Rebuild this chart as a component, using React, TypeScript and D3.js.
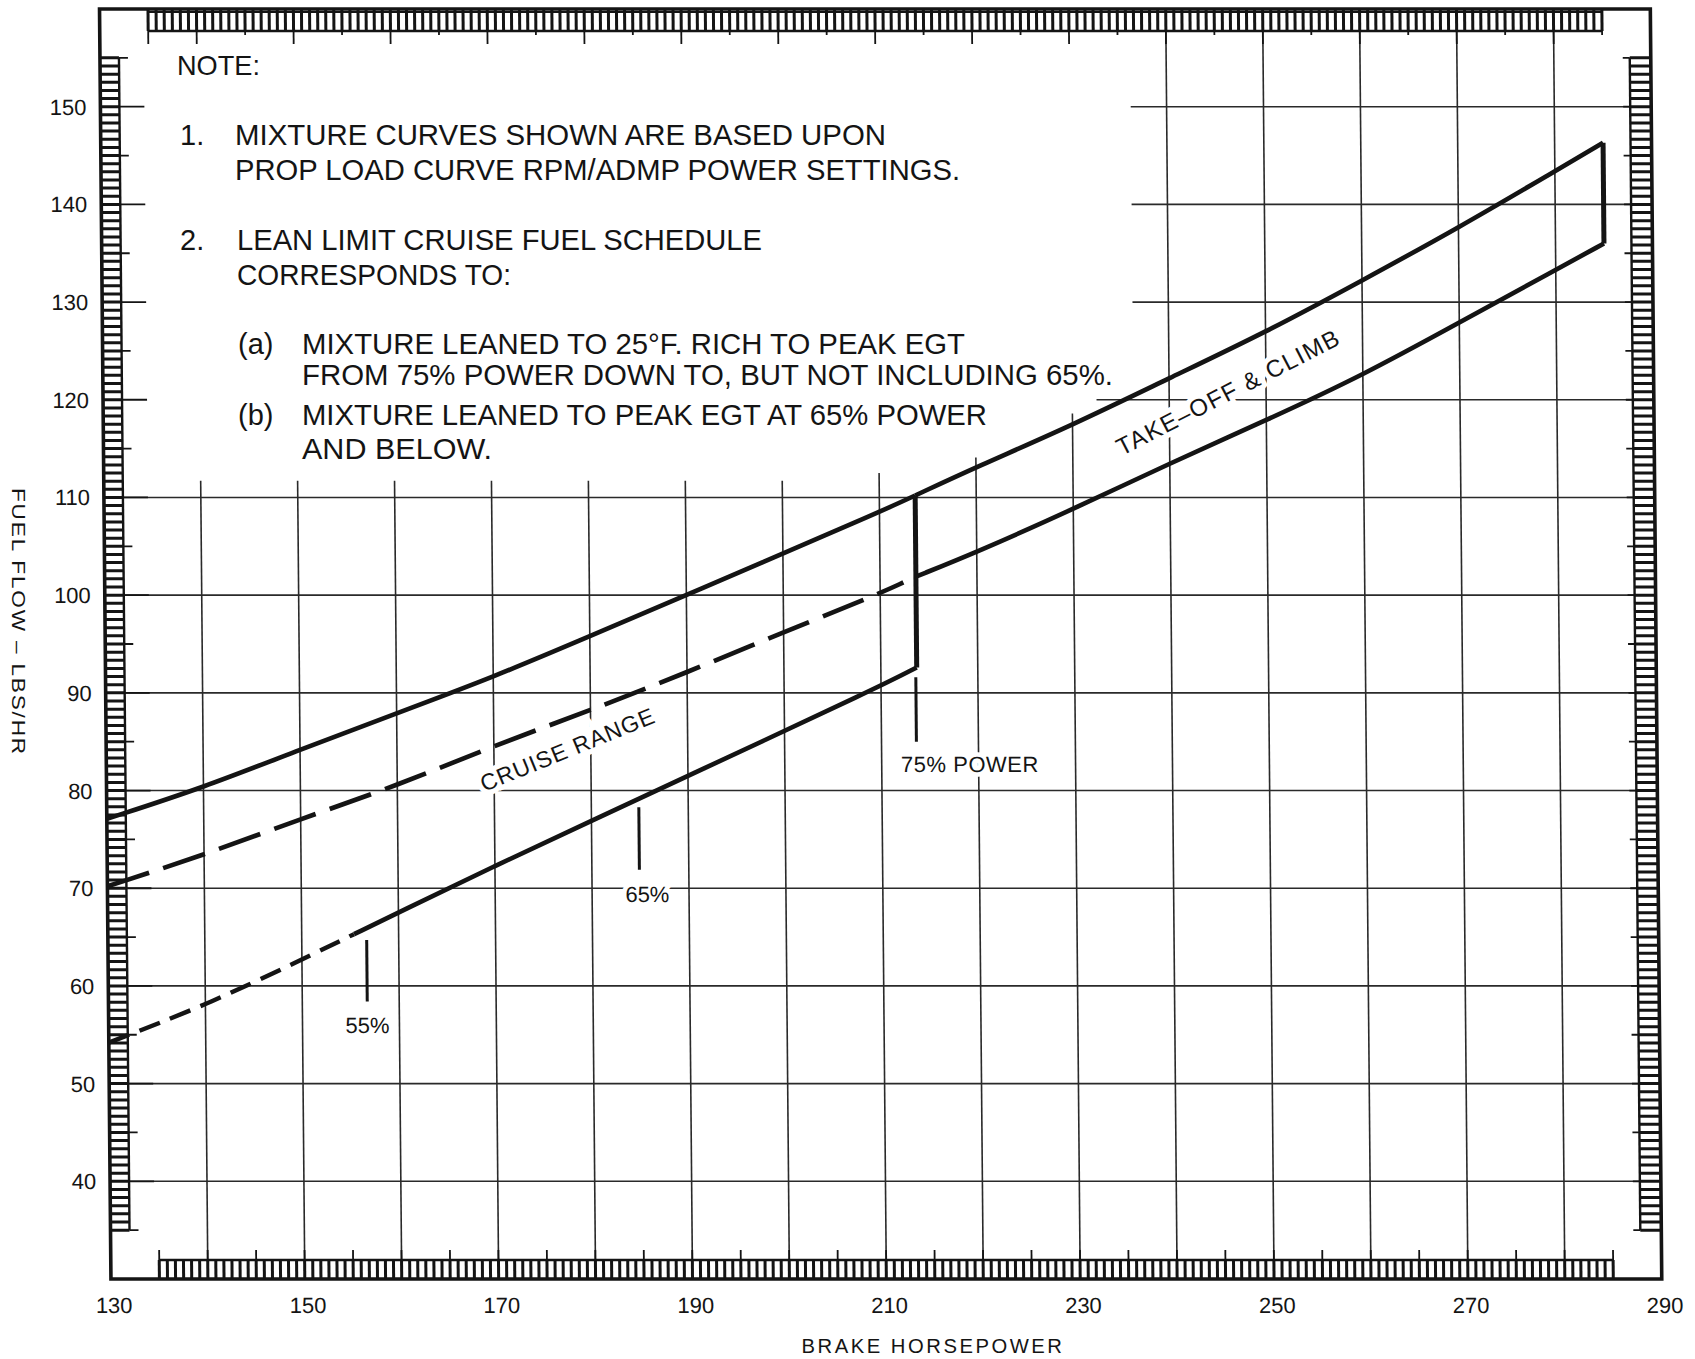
import React from "react";
import * as d3 from "d3";

const WIDTH = 1695;
const HEIGHT = 1359;

// ---- axes ----
const xTickValues = [130, 150, 170, 190, 210, 230, 250, 270, 290];
const yTickValues = [40, 50, 60, 70, 80, 90, 100, 110, 120, 130, 140, 150];
const xGridValues = [140, 150, 160, 170, 180, 190, 200, 210, 220, 230, 240, 250, 260, 270, 280];
const yGridValues = [40, 50, 60, 70, 80, 90, 100, 110, 120, 130, 140, 150];

// ---- series (brake horsepower -> fuel flow lbs/hr) ----
const richHp = [130, 140, 150, 160, 170, 180, 190, 210, 213.7];
const richFlow = [77.1, 80.3, 84.2, 87.9, 91.6, 95.8, 100.0, 108.5, 110.2];

const takeoffUpperHp = [213.7, 220, 230, 240, 250, 260, 270, 280, 285];
const takeoffUpperFlow = [110.2, 113.1, 117.4, 122.2, 126.9, 132.2, 137.6, 143.4, 146.3];

const takeoffLowerHp = [213.7, 220, 230, 240, 250, 260, 270, 280, 285];
const takeoffLowerFlow = [101.9, 104.4, 108.8, 113.5, 117.9, 122.5, 127.9, 133.3, 136.0];

const lean25Hp = [130, 140, 150, 160, 170, 180, 190, 200, 210, 212.4];
const lean25Flow = [70.2, 73.4, 77.1, 80.5, 84.6, 88.2, 92.1, 96.2, 100.2, 101.3];

const peakEgtHp = [130, 140, 150, 155.4, 160, 170, 180, 190, 210, 213.7];
const peakEgtFlow = [54.2, 58.0, 62.7, 65.3, 67.5, 72.3, 76.9, 81.5, 90.7, 92.6];
const peakEgtDashedUntil = 155.4;

// ---- power markers ----
const markLabels = ["55%", "65%", "75% POWER"];
const markHp = [156.7, 184.9, 213.6];
const markTopFlow = [64.7, 78.3, 91.6];
const markBottomFlow = [58.4, 71.9, 85.0];
const markLabelHp = [156.7, 185.7, 219.1];
const markLabelFlow = [55.2, 68.6, 81.9];

// ---- band labels ----
const bandLabels = ["CRUISE RANGE", "TAKE\u2013OFF & CLIMB"];
const bandHp = [177.6, 246.1];
const bandFlow = [84.2, 120.8];
const bandAngle = [-22, -27];

// ---- area behind the note (grid blanked) ----
const noteMaskHp = [130, 236.3, 236.3, 232.5, 232.5, 225, 225, 215, 215, 205, 205, 130];
const noteMaskFlow = [160, 160, 121.5, 121.5, 118.6, 118.6, 114.1, 114.1, 112.5, 112.5, 111.7, 111.7];

// ---- note text ----
const noteTexts = [
  "NOTE:",
  "1.",
  "MIXTURE CURVES SHOWN ARE BASED UPON",
  "PROP LOAD CURVE RPM/ADMP POWER SETTINGS.",
  "2.",
  "LEAN LIMIT CRUISE FUEL SCHEDULE",
  "CORRESPONDS TO:",
  "(a)",
  "MIXTURE LEANED TO 25\u00B0F. RICH TO PEAK EGT",
  "FROM 75% POWER DOWN TO, BUT NOT INCLUDING 65%.",
  "(b)",
  "MIXTURE LEANED TO PEAK EGT AT 65% POWER",
  "AND BELOW.",
];
const noteX = [177, 180, 235, 235, 180, 237, 237, 238, 302, 302, 238, 302, 302];
const noteY = [75, 145, 145, 180, 250, 250, 285, 354, 354, 385, 425, 425, 459];
const noteEnd = [260, 0, 886, 960, 0, 762, 511, 0, 965, 1113, 0, 987, 492];

const FONT = "'Liberation Sans', Arial, Helvetica, sans-serif";
const INK = "#141414";
const SKEW = 0.009;

export default function App() {
  const x = d3.scaleLinear().domain([130, 290]).range([105.2, 1656]);
  const y = d3.scaleLinear().domain([30, 160]).range([1279, 9]);

  const line = d3
    .line<[number, number]>()
    .x((d) => x(d[0]))
    .y((d) => y(d[1]))
    .curve(d3.curveBasis);

  const zip = (a: number[], b: number[]) => a.map((v, i) => [v, b[i]] as [number, number]);

  const rich = zip(richHp, richFlow);
  const tUp = zip(takeoffUpperHp, takeoffUpperFlow);
  const tLo = zip(takeoffLowerHp, takeoffLowerFlow);
  const lean = zip(lean25Hp, lean25Flow);
  const peak = zip(peakEgtHp, peakEgtFlow);
  const peakDashed = peak.filter((d) => d[0] <= peakEgtDashedUntil);
  const peakSolid = peak.filter((d) => d[0] >= peakEgtDashedUntil);

  const x0 = x(130), x1 = x(290), yTop = y(160), yBot = y(30);

  // rulers
  const PITCH = 5 / 6;
  const rungs = (a: number, b: number) => {
    const n = Math.round((b - a) / PITCH);
    return d3.range(n + 1).map((i) => a + (i * (b - a)) / n);
  };
  const hRung = rungs(135, 285);
  const vRung = rungs(35, 155);
  const hTicks = d3.range(135, 286, 5);
  const vTicks = d3.range(35, 156, 5);
  const TOPW = 22, BOTW = 19, LEFTW = 19, RIGHTW = 21;

  const maskPts = noteMaskHp.map((h, i) => `${x(h)},${y(noteMaskFlow[i])}`).join(" ");

  const skewDeg = (Math.atan(SKEW) * 180) / Math.PI;

  const bandText = (halo: boolean) =>
    bandLabels.map((t, i) => (
      <text
        key={"b" + i + halo}
        x={x(bandHp[i])}
        y={y(bandFlow[i])}
        transform={`rotate(${bandAngle[i]},${x(bandHp[i])},${y(bandFlow[i])})`}
        textAnchor="middle"
        dominantBaseline="central"
        fontFamily={FONT}
        fontSize={i === 0 ? 23 : 24}
        letterSpacing={i === 0 ? 1 : 1.5}
        fill={halo ? "white" : INK}
        stroke={halo ? "white" : "none"}
        strokeWidth={halo ? 10 : 0}
      >
        {t}
      </text>
    ));

  const markText = (halo: boolean) =>
    markLabels.map((t, i) => (
      <text
        key={"m" + i + halo}
        x={x(markLabelHp[i])}
        y={y(markLabelFlow[i])}
        textAnchor="middle"
        fontFamily={FONT}
        fontSize={22}
        letterSpacing={i === 2 ? 0.5 : 0}
        fill={halo ? "white" : INK}
        stroke={halo ? "white" : "none"}
        strokeWidth={halo ? 9 : 0}
      >
        {t}
      </text>
    ));

  return (
    <svg
      width={WIDTH}
      height={HEIGHT}
      viewBox={`0 0 ${WIDTH} ${HEIGHT}`}
      style={{ position: "absolute", left: 0, top: 0, display: "block", background: "white" }}
    >
      <rect x={0} y={0} width={WIDTH} height={HEIGHT} fill="white" />
      <g transform={`translate(${-SKEW * 640},0) skewX(${skewDeg})`}>
        {/* grid */}
        <g stroke="#2a2a2a" strokeWidth={1.6}>
          {xGridValues.map((v) => (
            <line key={"gx" + v} x1={x(v)} x2={x(v)} y1={yTop} y2={yBot} />
          ))}
          {yGridValues.map((v) => (
            <line key={"gy" + v} x1={x0} x2={x1} y1={y(v)} y2={y(v)} />
          ))}
        </g>
        {/* blank area behind note */}
        <polygon points={maskPts} fill="white" />

        {/* halos for labels */}
        {bandText(true)}
        {markText(true)}

        {/* rulers */}
        <g stroke={INK}>
          {/* top */}
          <rect x={x(135)} y={yTop} width={x(285) - x(135)} height={TOPW} fill="white" stroke="none" />
          <line x1={x(135)} x2={x(285)} y1={yTop + TOPW} y2={yTop + TOPW} strokeWidth={2.4} />
          <line x1={x(135)} x2={x(285)} y1={yTop + 3} y2={yTop + 3} strokeWidth={1.8} />
          {hRung.map((v, i) => (
            <line key={"tr" + i} x1={x(v)} x2={x(v)} y1={yTop} y2={yTop + TOPW} strokeWidth={3} />
          ))}
          {hTicks.map((v) => (
            <line
              key={"tt" + v}
              x1={x(v)}
              x2={x(v)}
              y1={yTop + TOPW}
              y2={yTop + TOPW + (v % 10 === 0 || v === 135 ? 13 : 4)}
              strokeWidth={1.8}
            />
          ))}
          {/* bottom */}
          <rect x={x(135)} y={yBot - BOTW} width={x(285) - x(135)} height={BOTW} fill="white" stroke="none" />
          <line x1={x(135)} x2={x(285)} y1={yBot - BOTW} y2={yBot - BOTW} strokeWidth={2.4} />
          {hRung.map((v, i) => (
            <line key={"br" + i} x1={x(v)} x2={x(v)} y1={yBot - BOTW} y2={yBot} strokeWidth={3} />
          ))}
          {hTicks.map((v) => (
            <line key={"bt" + v} x1={x(v)} x2={x(v)} y1={yBot - BOTW} y2={yBot - BOTW - 10} strokeWidth={1.8} />
          ))}
          {/* left */}
          <rect x={x0} y={y(155)} width={LEFTW} height={y(35) - y(155)} fill="white" stroke="none" />
          <line x1={x0 + LEFTW} x2={x0 + LEFTW} y1={y(155)} y2={y(35)} strokeWidth={2.4} />
          {vRung.map((v, i) => (
            <line key={"lr" + i} x1={x0} x2={x0 + LEFTW} y1={y(v)} y2={y(v)} strokeWidth={3} />
          ))}
          {vTicks.map((v) => (
            <line
              key={"lt" + v}
              x1={x0 + LEFTW}
              x2={x0 + LEFTW + (v % 10 === 0 ? 25 : 9)}
              y1={y(v)}
              y2={y(v)}
              strokeWidth={1.8}
            />
          ))}
          {/* right */}
          <rect x={x1 - RIGHTW} y={y(155)} width={RIGHTW} height={y(35) - y(155)} fill="white" stroke="none" />
          <line x1={x1 - RIGHTW} x2={x1 - RIGHTW} y1={y(155)} y2={y(35)} strokeWidth={2.4} />
          {vRung.map((v, i) => (
            <line key={"rr" + i} x1={x1 - RIGHTW} x2={x1} y1={y(v)} y2={y(v)} strokeWidth={3} />
          ))}
          {vTicks.map((v) => (
            <line key={"rt" + v} x1={x1 - RIGHTW} x2={x1 - RIGHTW - 7} y1={y(v)} y2={y(v)} strokeWidth={1.8} />
          ))}
        </g>

        {/* frame */}
        <rect x={x0} y={yTop} width={x1 - x0} height={yBot - yTop} fill="none" stroke={INK} strokeWidth={3.6} />

        {/* curves */}
        <g fill="none" stroke={INK} strokeLinecap="butt" strokeLinejoin="miter">
          <path d={line(rich) || ""} strokeWidth={4.6} />
          <path d={line(tUp) || ""} strokeWidth={4.6} />
          <path d={line(tLo) || ""} strokeWidth={4.6} />
          <path d={line(lean) || ""} strokeWidth={4.6} strokeDasharray="44 15" />
          <path d={line(peakDashed) || ""} strokeWidth={4.4} strokeDasharray="22 11" />
          <path d={line(peakSolid) || ""} strokeWidth={4.6} />
          {/* 75% power step */}
          <line
            x1={x(richHp[richHp.length - 1])}
            x2={x(richHp[richHp.length - 1])}
            y1={y(richFlow[richFlow.length - 1])}
            y2={y(peakEgtFlow[peakEgtFlow.length - 1])}
            strokeWidth={5}
          />
          {/* take-off right edge */}
          <line
            x1={x(takeoffUpperHp[takeoffUpperHp.length - 1])}
            x2={x(takeoffLowerHp[takeoffLowerHp.length - 1])}
            y1={y(takeoffUpperFlow[takeoffUpperFlow.length - 1])}
            y2={y(takeoffLowerFlow[takeoffLowerFlow.length - 1])}
            strokeWidth={5}
          />
          {/* power marks */}
          {markHp.map((h, i) => (
            <line key={"pm" + i} x1={x(h)} x2={x(h)} y1={y(markTopFlow[i])} y2={y(markBottomFlow[i])} strokeWidth={3} />
          ))}
        </g>

        {/* labels */}
        {bandText(false)}
        {markText(false)}

        {/* tick labels */}
        <g fontFamily={FONT} fontSize={22} fill={INK}>
          {yTickValues.map((v) => (
            <text key={"yl" + v} x={x0 - 14} y={y(v) + 8} textAnchor="end">
              {v}
            </text>
          ))}
          {xTickValues.map((v) => (
            <text key={"xl" + v} x={x(v) + 3} y={yBot + 34} textAnchor="middle">
              {v}
            </text>
          ))}
        </g>
      </g>

      {/* axis titles */}
      <text
        x={933}
        y={1353}
        textAnchor="middle"
        fontFamily={FONT}
        fontSize={20}
        letterSpacing={2.5}
        fill={INK}
        textLength={263}
        lengthAdjust="spacingAndGlyphs"
      >
        BRAKE HORSEPOWER
      </text>
      <text
        x={18}
        y={622}
        transform="rotate(90,18,622)"
        textAnchor="middle"
        dominantBaseline="central"
        fontFamily={FONT}
        fontSize={19}
        letterSpacing={1.5}
        fill={INK}
        textLength={268}
        lengthAdjust="spacingAndGlyphs"
      >
        FUEL FLOW – LBS/HR
      </text>

      {/* note */}
      <g fontFamily={FONT} fill={INK}>
        {noteTexts.map((t, i) => (
          <text
            key={"n" + i}
            x={noteX[i]}
            y={noteY[i]}
            fontSize={i === 0 ? 27.5 : 29}
            {...(noteEnd[i] > 0
              ? { textLength: noteEnd[i] - noteX[i], lengthAdjust: "spacingAndGlyphs" }
              : {})}
          >
            {t}
          </text>
        ))}
      </g>
    </svg>
  );
}
